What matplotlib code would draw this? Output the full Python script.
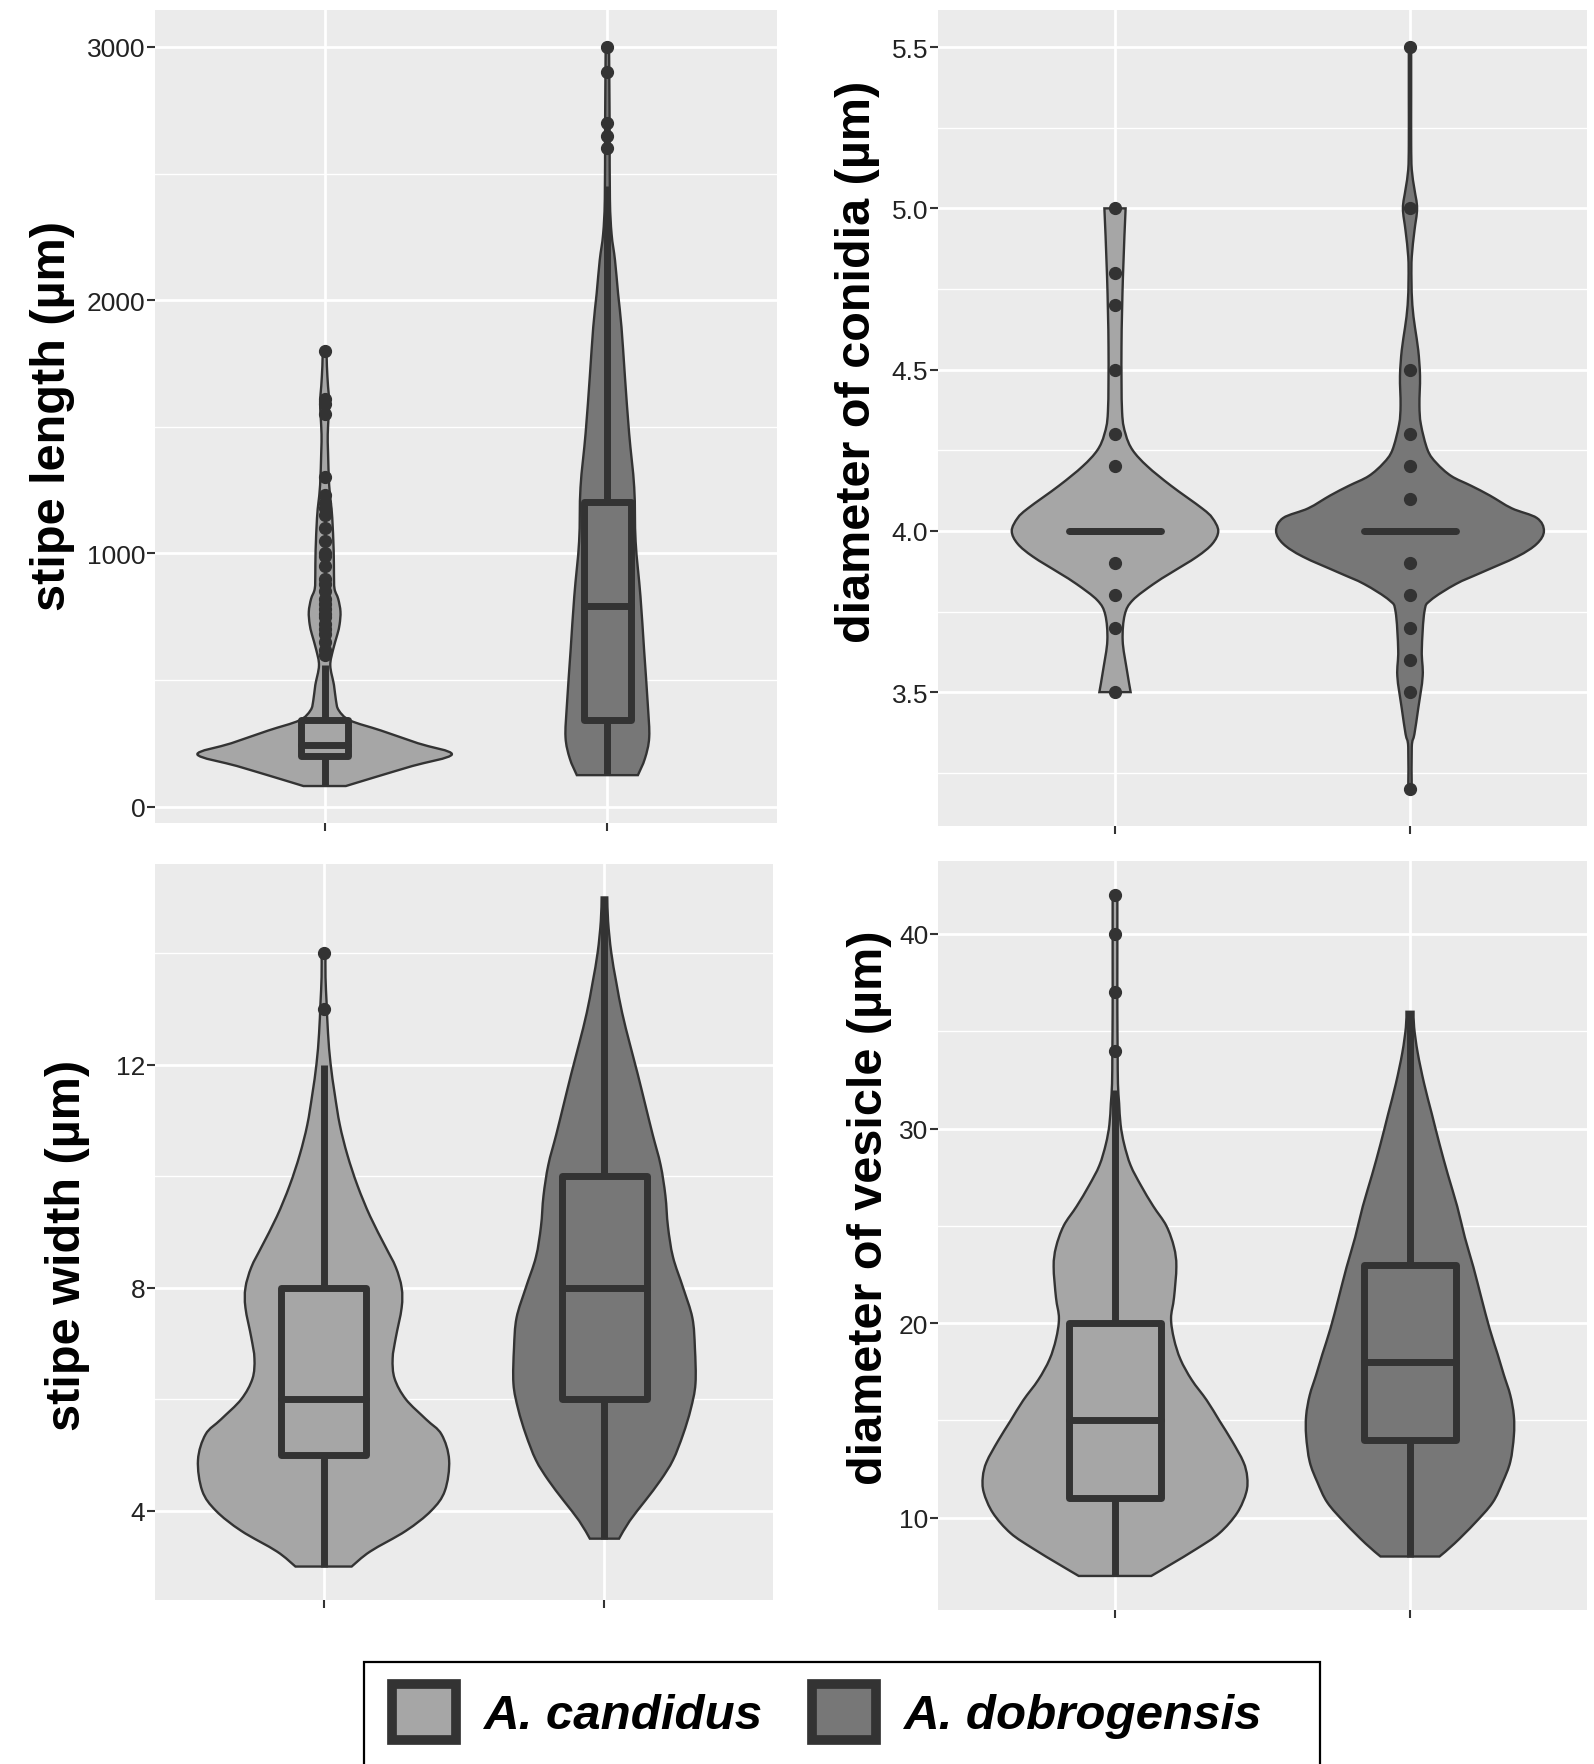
import numpy as np
import matplotlib.pyplot as plt
from matplotlib.patches import Rectangle, Patch, PathPatch
from matplotlib.path import Path

plt.rcParams['font.family'] = ['Liberation Sans', 'DejaVu Sans']

W, H = 1594, 1765

species = ['A. candidus', 'A. dobrogensis']
fills = ['#a6a6a6', '#777777']
line_col = '#333333'

# ---- stipe length (um) ----
len_cand_y = [81, 120, 160, 206, 250, 300, 340, 380, 420, 480, 557, 620, 680, 720,
              770, 820, 860, 920, 1010, 1140, 1200, 1270, 1400, 1470, 1540, 1600,
              1660, 1740, 1800]
len_cand_w = [0.075, 0.19, 0.31, 0.45, 0.33, 0.20, 0.09, 0.05, 0.04, 0.033, 0.02,
              0.03, 0.045, 0.053, 0.056, 0.048, 0.035, 0.033, 0.032, 0.027, 0.022,
              0.016, 0.012, 0.011, 0.014, 0.016, 0.012, 0.008, 0.007]
len_dob_y = [124, 190, 274, 403, 617, 831, 1046, 1260, 1474, 1700, 1893, 2025, 2158,
             2261, 2400, 2700, 3000]
len_dob_w = [0.108, 0.133, 0.148, 0.143, 0.13, 0.117, 0.10, 0.095, 0.077, 0.062,
             0.05, 0.038, 0.027, 0.015, 0.009, 0.008, 0.006]
len_stats = [(81, 200, 245, 340, 560), (124, 343, 793, 1202, 2450)]
len_out = [[1800, 1610, 1590, 1550, 1300, 1230, 1200, 1180, 1150, 1100, 1050, 1000,
            990, 950, 900, 880, 850, 820, 800, 780, 760, 750, 720, 700, 680, 650,
            620, 600],
           [3000, 2900, 2700, 2650, 2600]]

# ---- diameter of conidia (um) ----
con_cand_y = [3.5, 3.57, 3.66, 3.74, 3.785, 3.835, 3.87, 3.92, 3.96, 4.0, 4.04, 4.07,
              4.14, 4.2, 4.25, 4.3, 4.37, 4.57, 4.79, 5.0]
con_cand_w = [0.053, 0.04, 0.026, 0.033, 0.06, 0.13, 0.19, 0.278, 0.33, 0.35, 0.33,
              0.295, 0.19, 0.11, 0.06, 0.036, 0.024, 0.022, 0.027, 0.036]
con_dob_y = [3.2, 3.33, 3.37, 3.45, 3.55, 3.63, 3.75, 3.785, 3.835, 3.87, 3.92, 3.96,
             4.0, 4.04, 4.07, 4.11, 4.14, 4.17, 4.21, 4.25, 4.33, 4.39, 4.48, 4.56,
             4.63, 4.7, 4.78, 4.85, 4.93, 5.0, 5.06, 5.12, 5.2, 5.35, 5.5]
con_dob_w = [0.006, 0.006, 0.015, 0.028, 0.043, 0.04, 0.049, 0.07, 0.155, 0.24,
             0.363, 0.43, 0.454, 0.43, 0.345, 0.27, 0.207, 0.14, 0.09, 0.06, 0.037,
             0.032, 0.034, 0.028, 0.017, 0.008, 0.005, 0.006, 0.015, 0.024, 0.015,
             0.006, 0.004, 0.004, 0.004]
con_stats = [(4.0, 4.0, 4.0, 4.0, 4.0), (4.0, 4.0, 4.0, 4.0, 4.0)]
con_out = [[5.0, 4.8, 4.7, 4.5, 4.3, 4.2, 3.9, 3.8, 3.7, 3.5],
           [5.5, 5.0, 4.5, 4.3, 4.2, 4.1, 3.9, 3.8, 3.7, 3.6, 3.5, 3.2]]

# ---- stipe width (um) ----
wid_cand_y = [3.0, 3.27, 3.64, 4.0, 4.36, 4.91, 5.37, 5.64, 6.0, 6.37, 6.73, 7.1,
              7.64, 8.0, 8.37, 8.74, 9.28, 9.83, 10.38, 10.92, 11.47, 12.02, 12.56,
              13.1, 13.57, 14.0]
wid_cand_w = [0.10, 0.166, 0.293, 0.383, 0.432, 0.447, 0.42, 0.365, 0.293, 0.253,
              0.246, 0.257, 0.278, 0.278, 0.257, 0.22, 0.166, 0.121, 0.085, 0.058,
              0.04, 0.025, 0.016, 0.011, 0.007, 0.007]
wid_dob_y = [3.5, 3.82, 4.18, 4.55, 4.91, 5.37, 5.82, 6.28, 6.92, 7.46, 8.0, 8.55,
             9.1, 9.65, 10.2, 10.74, 11.29, 11.84, 12.38, 12.93, 13.48, 14.02, 14.57,
             15.0]
wid_dob_w = [0.052, 0.09, 0.145, 0.2, 0.244, 0.28, 0.307, 0.324, 0.322, 0.313, 0.28,
             0.244, 0.226, 0.217, 0.2, 0.172, 0.145, 0.118, 0.09, 0.063, 0.042, 0.024,
             0.013, 0.01]
wid_stats = [(3, 5, 6, 8, 12), (3.5, 6, 8, 10, 15)]
wid_out = [[13, 14], []]

# ---- diameter of vesicle (um) ----
ves_cand_y = [7.0, 7.6, 8.4, 9.2, 10.24, 11.3, 12.1, 12.87, 13.93, 14.98, 16.03,
              17.08, 18.13, 19.18, 20.24, 21.3, 22.9, 23.9, 25.0, 26.0, 27.07, 28.1,
              29.2, 30.2, 31.3, 32.3, 33.9, 36.0, 39.0, 42.0]
ves_cand_w = [0.123, 0.19, 0.277, 0.354, 0.414, 0.445, 0.448, 0.435, 0.397, 0.354,
              0.311, 0.26, 0.222, 0.2, 0.19, 0.2, 0.208, 0.2, 0.174, 0.13, 0.088,
              0.053, 0.031, 0.019, 0.014, 0.01, 0.009, 0.008, 0.008, 0.008]
ves_dob_y = [8.0, 8.67, 9.72, 10.77, 11.82, 12.87, 14.19, 15.24, 16.29, 17.34, 18.4,
             19.7, 21.29, 22.87, 24.4, 26.0, 27.6, 29.2, 30.75, 32.3, 33.9, 35.2, 36.0]
ves_dob_w = [0.1, 0.151, 0.22, 0.28, 0.314, 0.34, 0.352, 0.352, 0.34, 0.318, 0.297,
             0.27, 0.242, 0.215, 0.186, 0.16, 0.129, 0.1, 0.074, 0.048, 0.026, 0.014,
             0.012]
ves_stats = [(7, 11, 15, 20, 32), (8, 14, 18, 23, 36)]
ves_out = [[34, 37, 40, 42], []]


def smooth_side(pts):
    # Catmull-Rom through the outline points, written as cubic Bezier pieces
    verts, codes = [], []
    n = len(pts)
    for i in range(n - 1):
        p0 = pts[max(i - 1, 0)]
        p1, p2 = pts[i], pts[i + 1]
        p3 = pts[min(i + 2, n - 1)]
        verts += [p1 + (p2 - p0) / 6, p2 - (p3 - p1) / 6, p2]
        codes += [Path.CURVE4] * 3
    return verts, codes


def violin_patch(x0, y, w, color):
    y = np.asarray(y, float)
    w = np.asarray(w, float)
    left = np.column_stack([x0 - w, y])
    right = np.column_stack([x0 + w, y])[::-1]
    lv, lc = smooth_side(left)
    rv, rc = smooth_side(right)
    verts = [left[0]] + lv + [right[0]] + rv + [left[0]]
    codes = [Path.MOVETO] + lc + [Path.LINETO] + rc + [Path.CLOSEPOLY]
    return PathPatch(Path(verts, codes), facecolor=color, edgecolor=line_col,
                     lw=1.7, joinstyle='miter', zorder=2)


def draw_panel(ax, violins, stats, outliers, box_half, ylim, major, minor, fmt):
    ax.set_facecolor('#ebebeb')
    for i in range(2):
        x0 = i + 1
        ax.add_patch(violin_patch(x0, violins[i][0], violins[i][1], fills[i]))
        lo, q1, med, q3, hi = stats[i]
        # whiskers below and above the box
        ax.vlines([x0, x0], [lo, q3], [q1, hi], colors=line_col, lw=5, zorder=3)
        ax.add_patch(Rectangle((x0 - box_half, q1), 2 * box_half, q3 - q1,
                               facecolor=fills[i], edgecolor=line_col, lw=5,
                               joinstyle='round', zorder=3))
        ax.hlines(med, x0 - box_half, x0 + box_half, colors=line_col, lw=5,
                  capstyle='round', zorder=4)
        pts = outliers[i]
        ax.plot(np.full(len(pts), x0), pts, 'o', color=line_col, ms=8.5,
                mec=line_col, zorder=5)

    ax.set_xlim(0.4, 2.6)
    ax.set_ylim(*ylim)
    ax.set_xticks([1, 2])
    ax.set_xticklabels([])
    ax.set_yticks(major, labels=[fmt.format(v) for v in major])
    ax.set_yticks(minor, minor=True)
    ax.grid(which='major', color='white', lw=2.0)
    ax.grid(which='minor', axis='y', color='white', lw=1.0)
    ax.set_axisbelow(True)
    ax.tick_params(which='major', length=6, width=1.5, color=line_col,
                   labelsize=19, labelcolor='#222222', pad=1)
    ax.tick_params(which='minor', length=0)
    for s in ax.spines.values():
        s.set_visible(False)


fig = plt.figure(figsize=(W / 100, H / 100), dpi=100)


def add_panel(left, top, right, bottom):
    return fig.add_axes([left / W, 1 - bottom / H, (right - left) / W,
                         (bottom - top) / H])


ax_len = add_panel(155, 11, 777, 824)
ax_con = add_panel(938, 11, 1587, 827)
ax_wid = add_panel(155, 865, 773, 1601)
ax_ves = add_panel(938, 862, 1587, 1611)

draw_panel(ax_len, [(len_cand_y, len_cand_w), (len_dob_y, len_dob_w)], len_stats,
           len_out, 0.083, (-65, 3146), [0, 1000, 2000, 3000], [500, 1500, 2500],
           '{:g}')
draw_panel(ax_con, [(con_cand_y, con_cand_w), (con_dob_y, con_dob_w)], con_stats,
           con_out, 0.157, (3.085, 5.615), [3.5, 4.0, 4.5, 5.0, 5.5],
           [3.25, 3.75, 4.25, 4.75, 5.25], '{:.1f}')
draw_panel(ax_wid, [(wid_cand_y, wid_cand_w), (wid_dob_y, wid_dob_w)], wid_stats,
           wid_out, 0.15, (2.4, 15.6), [4, 8, 12], [6, 10, 14], '{:g}')
draw_panel(ax_ves, [(ves_cand_y, ves_cand_w), (ves_dob_y, ves_dob_w)], ves_stats,
           ves_out, 0.156, (5.25, 43.75), [10, 20, 30, 40], [15, 25, 35], '{:g}')

# axis titles
titles = [('stipe length (\u00b5m)', 53, 416),
          ('diameter of conidia (\u00b5m)', 857, 362),
          ('stipe width (\u00b5m)', 68, 1245),
          ('diameter of vesicle (\u00b5m)', 870, 1208)]
for text, x, y in titles:
    fig.text(x / W, 1 - y / H, text, rotation=90, ha='center', va='center',
             fontsize=35, fontweight='bold', color='black')

# legend: black frame running off the bottom edge
fig.patches.append(Rectangle((364 / W, -0.05), (1320 - 364) / W,
                             1 - 1663 / H + 0.05, transform=fig.transFigure,
                             fill=False, edgecolor='black', lw=1.6))
handles = [Patch(facecolor=fills[i], edgecolor=line_col, linewidth=7,
                 joinstyle='round') for i in range(2)]
fig.legend(handles, species, loc='upper left', ncol=2,
           bbox_to_anchor=(370 / W, 1 - 1663 / H), frameon=False,
           prop=dict(family='Liberation Sans', style='italic', weight='bold',
                     size=35.5),
           handlelength=1.3, handleheight=1.35, handletextpad=0.55,
           columnspacing=1.0, borderpad=0.45, borderaxespad=0)

fig.savefig('out.png', dpi=100)
